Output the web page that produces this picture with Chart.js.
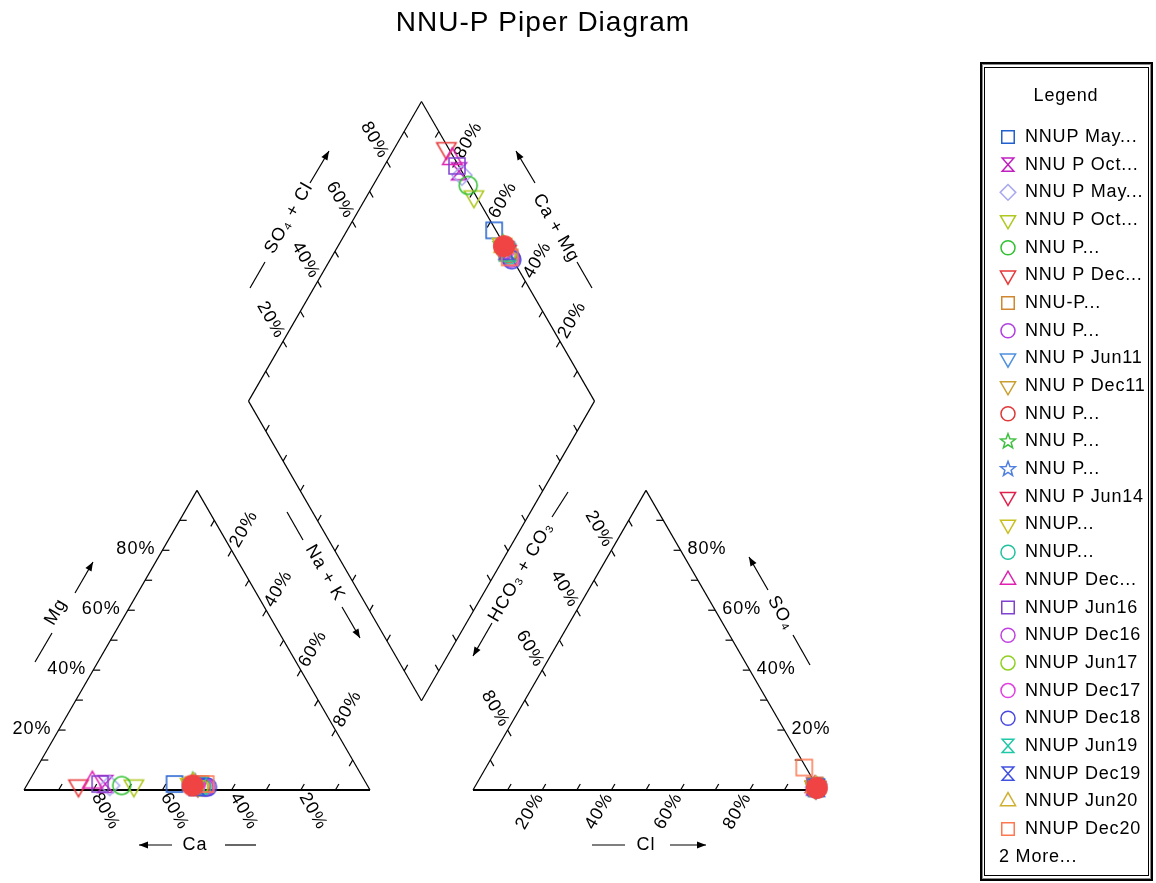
<!DOCTYPE html>
<html>
<head>
<meta charset="utf-8">
<title>NNU-P Piper Diagram</title>
<script src="https://cdn.jsdelivr.net/npm/chart.js@4.4.1/dist/chart.umd.min.js"></script>
<style>
    html, body { margin: 0; padding: 0; background: #fff; }
    canvas { display: block; }
</style>
</head>
<body>
<canvas id="piper" width="1156" height="883"></canvas>
<script>
// ---- data (milliequivalent percentages) ----
const legendLabels = [
    'NNUP May...', 'NNU P Oct...', 'NNU P May...', 'NNU P Oct...', 'NNU P...',
    'NNU P Dec...', 'NNU-P...', 'NNU P...', 'NNU P Jun11', 'NNU P Dec11',
    'NNU P...', 'NNU P...', 'NNU P...', 'NNU P Jun14', 'NNUP...',
    'NNUP...', 'NNUP Dec...', 'NNUP Jun16', 'NNUP Dec16', 'NNUP Jun17',
    'NNUP Dec17', 'NNUP Dec18', 'NNUP Jun19', 'NNUP Dec19', 'NNUP Jun20',
    'NNUP Dec20', 'NNUP Jun21', 'NNUP Dec21'
];
const legendShown = 26;

const markerShapes = [
    'square', 'hourglass', 'diamond', 'triDown', 'circle',
    'triDown', 'square', 'circle', 'triDown', 'triDown',
    'circle', 'star', 'star', 'triDown', 'triDown',
    'circle', 'triUp', 'square', 'circle', 'circle',
    'circle', 'circle', 'hourglass', 'hourglass', 'triUp',
    'square', 'star', 'circle'
];
const markerColors = [
    '#2060d0', '#c020c0', '#a8a8f0', '#b0c820', '#30c030',
    '#e83838', '#d08830', '#b040e0', '#5090e0', '#c8a030',
    '#e03838', '#40c040', '#5080e0', '#e0204a', '#c8c020',
    '#20c0a0', '#e020b0', '#8040d0', '#c040e0', '#90d020',
    '#e040e0', '#4848e0', '#20c8a8', '#4050e0', '#d0b030',
    '#ff7850', '#d8c020', '#f04444'
];
const markerFilled = [
    false, false, false, false, false, false, false, false, false, false,
    false, false, false, false, false, false, false, false, false, false,
    false, false, false, false, false, false, false, true
];

// cations
const caPct  = [55.5, 75.5, 74.5, 67.5, 71, 83.5, 48, 47, 49, 49.5, 48, 50, 49.5, 49, 51, 48, 79, 77, 47.5, 49, 49.5, 46.5, 48.5, 49.5, 50, 46.5, 50, 50.5];
const mgPct  = [2, 2, 1.5, 1.5, 1.5, 1.5, 2, 1, 2, 2.5, 1.5, 2.5, 2, 1.5, 2, 1, 2.5, 2, 1, 1, 1.5, 1, 1.5, 1, 2, 2, 2, 1.5];
const naKPct = [42.5, 22.5, 24, 31, 27.5, 15, 50, 52, 49, 48, 50.5, 47.5, 48.5, 49.5, 47, 51, 18.5, 21, 51.5, 50, 49, 52.5, 50, 49.5, 48, 51.5, 48, 48];
// anions
const hco3Pct = [0.5, 0.8, 0.6, 0.7, 0.5, 0.6, 0.4, 0.3, 0.4, 0.5, 0.3, 0.4, 0.3, 0.4, 0.5, 0.3, 0.7, 0.5, 0.3, 0.4, 0.4, 0.3, 0.4, 0.3, 0.5, 0.5, 0.4, 0.3];
const so4Pct  = [1.0, 1.2, 0.9, 1.0, 0.8, 1.1, 1.5, 0.6, 0.8, 1.0, 0.7, 0.9, 0.8, 0.9, 1.2, 0.6, 1.0, 1.0, 0.6, 0.8, 0.9, 0.6, 0.8, 0.7, 1.0, 7.5, 0.9, 0.7];
const clPct   = [98.5, 98.0, 98.5, 98.3, 98.7, 98.3, 98.1, 99.1, 98.8, 98.5, 99.0, 98.7, 98.9, 98.7, 98.3, 99.1, 98.3, 98.5, 99.1, 98.8, 98.7, 99.1, 98.8, 99.0, 98.5, 92.0, 98.7, 99.0];

const tickPercents = [20, 40, 60, 80];

// ---- piper geometry (triangle side = 1) ----
const H = Math.sqrt(3) / 2;
const GAP = 103 / 346;

function cationXY(ca, mg, nak) {
    const t = ca + mg + nak;
    return { x: nak / t + mg / t / 2, y: mg / t * H };
}
function anionXY(hco3, so4, cl) {
    const t = hco3 + so4 + cl;
    return { x: 1 + GAP + cl / t + so4 / t / 2, y: so4 / t * H };
}
function diamondXY(nak, so4cl) {
    return {
        x: 0.5 + GAP / 2 + so4cl * 0.5 + nak * 0.5,
        y: H + GAP * H + so4cl * H - nak * H
    };
}

// ---- markers ----
function drawMarker(ctx, shape, x, y, r, color, filled) {
    ctx.save();
    ctx.strokeStyle = color;
    ctx.fillStyle = color;
    ctx.lineWidth = 1.5;
    ctx.beginPath();
    if (shape === 'square') {
        const h = r * 0.8;
        ctx.rect(x - h, y - h, 2 * h, 2 * h);
    } else if (shape === 'circle') {
        ctx.arc(x, y, r * 0.9, 0, Math.PI * 2);
    } else if (shape === 'triDown' || shape === 'triUp') {
        const R = r * 1.12, s = shape === 'triUp' ? -1 : 1;
        ctx.moveTo(x - R * H, y - s * R / 2);
        ctx.lineTo(x + R * H, y - s * R / 2);
        ctx.lineTo(x, y + s * R);
        ctx.closePath();
    } else if (shape === 'diamond') {
        ctx.moveTo(x, y - r);
        ctx.lineTo(x + r, y);
        ctx.lineTo(x, y + r);
        ctx.lineTo(x - r, y);
        ctx.closePath();
    } else if (shape === 'hourglass') {
        const w = r * 0.75, h = r * 0.85;
        ctx.moveTo(x - w, y - h);
        ctx.lineTo(x + w, y - h);
        ctx.lineTo(x - w, y + h);
        ctx.lineTo(x + w, y + h);
        ctx.closePath();
    } else if (shape === 'star') {
        for (let k = 0; k < 10; k++) {
            const a = -Math.PI / 2 + k * Math.PI / 5;
            const rr = k % 2 === 0 ? r : r * 0.42;
            const px = x + rr * Math.cos(a), py = y + rr * Math.sin(a);
            if (k === 0) ctx.moveTo(px, py); else ctx.lineTo(px, py);
        }
        ctx.closePath();
    }
    if (filled) ctx.fill();
    ctx.stroke();
    ctx.restore();
}

function markerCanvas(shape, color, r, filled) {
    const c = document.createElement('canvas');
    const d = Math.ceil(r * 2.6 + 4);
    c.width = d;
    c.height = d;
    drawMarker(c.getContext('2d'), shape, d / 2, d / 2, r, color, filled);
    return c;
}

// ---- drawing helpers ----
const FONT = '"Liberation Sans", Arial, sans-serif';

function rotText(ctx, str, x, y, deg, align) {
    ctx.save();
    ctx.translate(x, y);
    ctx.rotate(deg * Math.PI / 180);
    ctx.textAlign = align;
    ctx.textBaseline = 'middle';
    ctx.fillText(str, 0, 0);
    ctx.restore();
}

function arrow(ctx, x1, y1, x2, y2) {
    const a = Math.atan2(y2 - y1, x2 - x1);
    ctx.beginPath();
    ctx.moveTo(x1, y1);
    ctx.lineTo(x2, y2);
    ctx.stroke();
    ctx.beginPath();
    ctx.moveTo(x2, y2);
    ctx.lineTo(x2 - 9 * Math.cos(a) + 3.5 * Math.sin(a), y2 - 9 * Math.sin(a) - 3.5 * Math.cos(a));
    ctx.lineTo(x2 - 9 * Math.cos(a) - 3.5 * Math.sin(a), y2 - 9 * Math.sin(a) + 3.5 * Math.cos(a));
    ctx.closePath();
    ctx.fill();
}

function seg(ctx, x1, y1, x2, y2) {
    ctx.beginPath();
    ctx.moveTo(x1, y1);
    ctx.lineTo(x2, y2);
    ctx.stroke();
}

// axis titles with their dash and arrow (pixel layout)
const axisTitles = [
    { text: 'Mg', x: 56, y: 612, deg: -60, dash: [35, 662, 52, 633], arrow: [75, 593, 93, 562] },
    { text: 'Na + K', x: 325, y: 573, deg: 60, dash: [287, 512, 303, 540], arrow: [342, 607, 360, 638] },
    { text: 'Ca', x: 195, y: 845, deg: 0, dash: [225, 845, 256, 845], arrow: [172, 845, 139, 845] },
    { text: 'Cl', x: 646, y: 845, deg: 0, dash: [592, 845, 625, 845], arrow: [670, 845, 706, 845] },
    { text: 'HCO\u2083 + CO\u2083', x: 521, y: 572, deg: -60, dash: [552, 517, 568, 492], arrow: [492, 623, 473, 656] },
    { text: 'SO\u2084', x: 781, y: 613, deg: 60, dash: [793, 635, 810, 665], arrow: [768, 590, 749, 557] },
    { text: 'SO\u2084 + Cl', x: 289, y: 218, deg: -60, dash: [250, 288, 265, 262], arrow: [310, 183, 329, 151] },
    { text: 'Ca + Mg', x: 556, y: 228, deg: 60, dash: [577, 262, 592, 288], arrow: [535, 183, 516, 151] }
];

const piperFrame = {
    id: 'piperFrame',
    beforeDatasetsDraw(chart) {
        const ctx = chart.ctx;
        const sx = chart.scales.x, sy = chart.scales.y;
        const P = p => ({ x: sx.getPixelForValue(p.x), y: sy.getPixelForValue(p.y) });

        const cCa = P(cationXY(100, 0, 0)), cMg = P(cationXY(0, 100, 0)), cNa = P(cationXY(0, 0, 100));
        const aHc = P(anionXY(100, 0, 0)), aSo = P(anionXY(0, 100, 0)), aCl = P(anionXY(0, 0, 100));
        const dL = P(diamondXY(0, 0)), dT = P(diamondXY(0, 1)), dR = P(diamondXY(1, 1)), dB = P(diamondXY(1, 0));

        ctx.save();
        ctx.strokeStyle = '#000';
        ctx.fillStyle = '#000';
        ctx.lineWidth = 1.2;

        const edges = [
            [cCa, cMg, [1, 0]], [cMg, cNa, [-0.5, H]], [cCa, cNa, [0.5, -H]],
            [aHc, aSo, [0.5, H]], [aSo, aCl, [-1, 0]], [aHc, aCl, [0.5, -H]],
            [dL, dT, [0.5, H]], [dT, dR, [-0.5, H]], [dR, dB, [-0.5, -H]], [dB, dL, [0.5, -H]]
        ];
        edges.forEach(([a, b, d]) => {
            seg(ctx, a.x, a.y, b.x, b.y);
            for (let k = 1; k < 10; k++) {
                const x = a.x + (b.x - a.x) * k / 10, y = a.y + (b.y - a.y) * k / 10;
                seg(ctx, x, y, x + d[0] * 7, y + d[1] * 7);
            }
        });
        // heavier base lines
        ctx.lineWidth = 2;
        seg(ctx, cCa.x, cCa.y, cNa.x, cNa.y);
        seg(ctx, aHc.x, aHc.y, aCl.x, aCl.y);
        ctx.lineWidth = 1.2;

        ctx.font = '18px ' + FONT;
        ctx.letterSpacing = '1px';
        tickPercents.forEach(p => {
            const lab = p + '%';
            let E;
            // cation triangle
            E = P(cationXY(100 - p, p, 0));
            rotText(ctx, lab, E.x - 7, E.y - 1.5, 0, 'right');
            E = P(cationXY(0, 100 - p, p));
            rotText(ctx, lab, E.x + 5 * 0.5, E.y - 5 * H, -60, 'left');
            E = P(cationXY(p, 0, 100 - p));
            rotText(ctx, lab, E.x + 5 * 0.5, E.y + 5 * H, 60, 'left');
            // anion triangle
            E = P(anionXY(100 - p, 0, p));
            rotText(ctx, lab, E.x - 5 * 0.5, E.y + 5 * H, -60, 'right');
            E = P(anionXY(p, 100 - p, 0));
            rotText(ctx, lab, E.x - 5 * 0.5, E.y - 5 * H, 60, 'right');
            E = P(anionXY(0, p, 100 - p));
            rotText(ctx, lab, E.x + 7, E.y - 1.5, 0, 'left');
            // diamond
            E = P(diamondXY(0, p / 100));
            rotText(ctx, lab, E.x - 5 * 0.5, E.y - 5 * H, 60, 'right');
            E = P(diamondXY(1 - p / 100, 1));
            rotText(ctx, lab, E.x + 5 * 0.5, E.y - 5 * H, -60, 'left');
        });

        axisTitles.forEach(t => {
            rotText(ctx, t.text, t.x, t.y, t.deg, 'center');
            seg(ctx, t.dash[0], t.dash[1], t.dash[2], t.dash[3]);
            arrow(ctx, t.arrow[0], t.arrow[1], t.arrow[2], t.arrow[3]);
        });

        // title
        ctx.font = '28px ' + FONT;
        ctx.letterSpacing = '1px';
        ctx.textAlign = 'center';
        ctx.textBaseline = 'middle';
        ctx.fillText('NNU-P Piper Diagram', 543, 23);
        ctx.restore();
    },
    afterDraw(chart) {
        const ctx = chart.ctx;
        ctx.save();
        // double-line legend box
        ctx.strokeStyle = '#000';
        ctx.lineWidth = 2;
        ctx.strokeRect(981, 63, 171, 817);
        ctx.strokeStyle = '#888';
        ctx.lineWidth = 1;
        ctx.strokeRect(982.5, 64.5, 168, 814);
        ctx.strokeStyle = '#000';
        ctx.strokeRect(984.5, 67.5, 164, 808);

        ctx.fillStyle = '#000';
        ctx.font = '18px ' + FONT;
        ctx.letterSpacing = '0.8px';
        ctx.textBaseline = 'middle';
        ctx.textAlign = 'center';
        ctx.fillText('Legend', 1066, 96);
        ctx.textAlign = 'left';
        const step = 27.68;
        for (let i = 0; i < legendShown; i++) {
            const y = 137 + i * step;
            drawMarker(ctx, markerShapes[i], 1008, y, 7.8, markerColors[i], markerFilled[i]);
            ctx.fillStyle = '#000';
            ctx.fillText(legendLabels[i], 1025, y);
        }
        ctx.fillText((legendLabels.length - legendShown) + ' More...', 999, 137 + legendShown * step);
        ctx.restore();
    }
};

const datasets = legendLabels.map((name, i) => {
    const tot = hco3Pct[i] + so4Pct[i] + clPct[i];
    const catTot = caPct[i] + mgPct[i] + naKPct[i];
    return {
        label: name,
        data: [
            cationXY(caPct[i], mgPct[i], naKPct[i]),
            anionXY(hco3Pct[i], so4Pct[i], clPct[i]),
            diamondXY(naKPct[i] / catTot, (so4Pct[i] + clPct[i]) / tot)
        ],
        pointStyle: markerCanvas(markerShapes[i], markerColors[i], markerFilled[i] ? 11.5 : 10, markerFilled[i]),
        pointRadius: 10,
        showLine: false,
        clip: false,
        order: -i
    };
});

new Chart(document.getElementById('piper').getContext('2d'), {
    type: 'scatter',
    data: { datasets: datasets },
    options: {
        responsive: false,
        animation: false,
        events: [],
        layout: { autoPadding: false, padding: 0 },
        scales: {
            x: { type: 'linear', display: false, min: -24 / 346, max: 1132 / 346 },
            y: { type: 'linear', display: false, min: -93 / 346, max: 790 / 346 }
        },
        plugins: {
            legend: { display: false },
            tooltip: { enabled: false }
        }
    },
    plugins: [piperFrame]
});
</script>
</body>
</html>
